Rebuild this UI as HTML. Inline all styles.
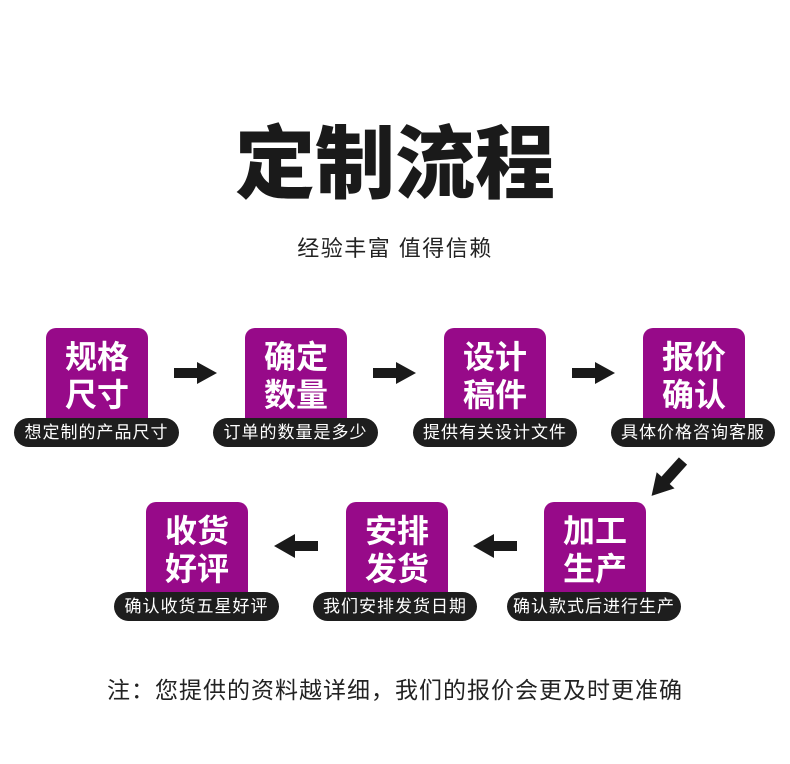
<!DOCTYPE html>
<html>
<head>
<meta charset="utf-8">
<style>
  html,body{margin:0;padding:0;}
  body{width:790px;height:764px;background:#fff;position:relative;overflow:hidden;
    font-family:"Liberation Sans","Noto Sans CJK SC",sans-serif;}
  .title{position:absolute;left:0;width:790px;top:125px;height:80px;line-height:80px;text-align:center;
    font-size:80px;font-weight:900;color:#1a1a1a;}
  .sub{position:absolute;left:0;width:790px;top:234px;line-height:30px;text-align:center;
    font-size:22px;color:#222;letter-spacing:1.5px;}
  .box{position:absolute;width:102px;height:100px;border-radius:10px;background:#970a89;}
  .box .t{position:absolute;left:0;width:100%;top:10px;text-align:center;color:#fff;
    font-size:32px;font-weight:bold;line-height:38px;}
  .pill{position:absolute;height:29px;border-radius:15px;background:#1e1e1e;color:#fff;
    font-size:17px;line-height:29px;text-align:center;letter-spacing:1px;white-space:nowrap;}
  .foot{position:absolute;left:0;width:790px;top:674px;line-height:32px;text-align:center;
    font-size:23px;color:#222;letter-spacing:1px;}
  svg{position:absolute;left:0;top:0;}
</style>
</head>
<body>
<div class="title">定制流程</div>
<div class="sub">经验丰富 值得信赖</div>

<!-- Row 1 -->
<div class="box" style="left:46px;top:328px;"><div class="t">规格<br>尺寸</div></div>
<div class="box" style="left:245px;top:328px;"><div class="t">确定<br>数量</div></div>
<div class="box" style="left:444px;top:328px;"><div class="t">设计<br>稿件</div></div>
<div class="box" style="left:643px;top:328px;"><div class="t">报价<br>确认</div></div>

<div class="pill" style="left:14px;top:418px;width:165px;">想定制的产品尺寸</div>
<div class="pill" style="left:213px;top:418px;width:165px;">订单的数量是多少</div>
<div class="pill" style="left:413px;top:418px;width:164px;">提供有关设计文件</div>
<div class="pill" style="left:611px;top:418px;width:164px;">具体价格咨询客服</div>

<!-- Row 2 -->
<div class="box" style="left:146px;top:502px;"><div class="t">收货<br>好评</div></div>
<div class="box" style="left:346px;top:502px;"><div class="t">安排<br>发货</div></div>
<div class="box" style="left:544px;top:502px;"><div class="t">加工<br>生产</div></div>

<div class="pill" style="left:114px;top:592px;width:165px;">确认收货五星好评</div>
<div class="pill" style="left:313px;top:592px;width:164px;">我们安排发货日期</div>
<div class="pill" style="left:507px;top:592px;width:174px;">确认款式后进行生产</div>

<svg width="790" height="764" viewBox="0 0 790 764">
  <g fill="#1a1a1a">
    <polygon points="174,368 197,368 197,362 217,373 197,384 197,378 174,378"/>
    <polygon points="373,368 396,368 396,362 416,373 396,384 396,378 373,378"/>
    <polygon points="572,368 595,368 595,362 615,373 595,384 595,378 572,378"/>
    <polygon points="318,541 295,541 295,534 274,546 295,558 295,551 318,551"/>
    <polygon points="517,541 494,541 494,534 473,546 494,558 494,551 517,551"/>
    <g transform="translate(683,461) rotate(132)">
      <polygon points="0,-5.5 26,-5.5 26,-12 47,0 26,12 26,5.5 0,5.5"/>
    </g>
  </g>
</svg>

<div class="foot">注：您提供的资料越详细，我们的报价会更及时更准确</div>
</body>
</html>
